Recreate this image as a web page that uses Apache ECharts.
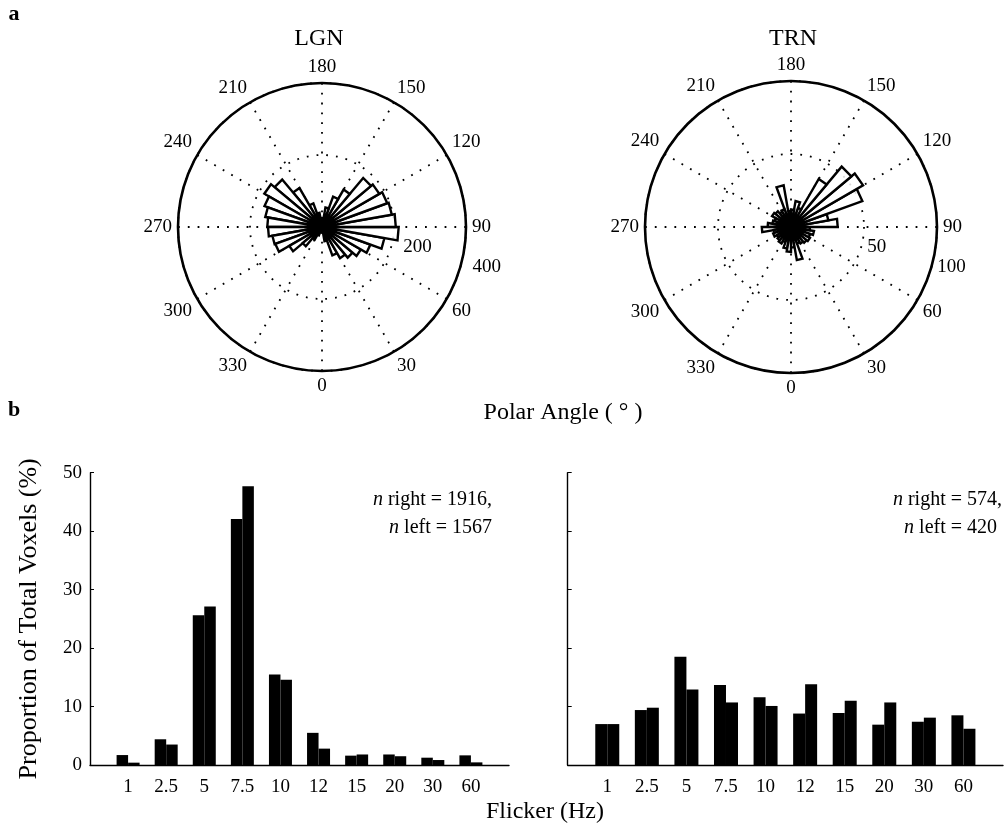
<!DOCTYPE html>
<html>
<head>
<meta charset="utf-8">
<script src="https://cdn.jsdelivr.net/npm/echarts@6/dist/echarts.min.js"></script>
<style>
html,body{margin:0;padding:0;background:#fff;}
#chart{width:1006px;height:828px;}
</style>
</head>
<body>
<div id="chart"></div>
<script>
// ---- data ----
const roseBinStart = [0,10,20,30,40,50,60,70,80,90,100,110,120,130,140,150,160,170,
                      180,190,200,210,220,230,240,250,260,270,280,290,300,310,320,330,340,350];
const lgnRose = [8,40,84,100,111,125,143,176,213,205,197,193,184,178,120,90,55,25,
                 10,40,70,125,172,185,170,160,152,150,140,138,105,70,40,25,15,8];
const trnRose = [14,23,12,13,14,15,14,16,13,32,26,52,57,54,38,14,18,12,
                 11,29,13,12,14,15,12,13,16,20,12,13,11,12,13,11,15,17];
const flickerHz = ['1','2.5','5','7.5','10','12','15','20','30','60'];
const lgnRight = [1.7,4.4,25.6,42.1,15.5,5.5,1.6,1.8,1.25,1.65];
const lgnLeft  = [0.4,3.5,27.1,47.7,14.6,2.8,1.8,1.5,0.85,0.45];
const trnRight = [7.0,9.4,18.5,13.7,11.6,8.8,8.9,6.9,7.4,8.5];
const trnLeft  = [7.0,9.8,12.9,10.7,10.1,13.8,11.0,10.7,8.1,6.2];
const lgnRadiusMax = 400, lgnRadiusStep = 200;
const trnRadiusMax = 100, trnRadiusStep = 50;
const binWidthDeg = 10;

const FONT = 'Liberation Serif';
const chart = echarts.init(document.getElementById('chart'));

function roseItem(params, api) {
  const r = api.value(0), a0 = api.value(1);
  const c = api.coord([0, a0]);
  const p0 = api.coord([r, a0]);
  const p1 = api.coord([r, a0 + binWidthDeg]);
  return {type:'polygon', shape:{points:[c,p0,p1]},
          style:{fill:'rgba(255,255,255,0.85)', stroke:'#000', lineWidth:2.4, lineJoin:'miter'}};
}
const dotted = {color:'#000', width:1.8, type:[1.8,8]};

function mainAngle(idx){
  return {polarIndex:idx, type:'value', min:0, max:360, interval:30, startAngle:270, clockwise:false,
    axisLine:{show:true, lineStyle:{color:'#000', width:2.6}},
    axisTick:{show:false},
    axisLabel:{color:'#000', fontSize:19, fontFamily:FONT, margin:6,
      formatter:v => v===360 ? '' : String(v)},
    splitLine:{show:true, lineStyle:dotted}};
}
function mainRadius(idx, max, step){
  return {polarIndex:idx, type:'value', min:0, max:max, interval:step,
    axisLine:{show:false}, axisTick:{show:false}, axisLabel:{show:false},
    splitLine:{show:true, lineStyle:dotted}};
}
function labelAngle(idx){
  return {polarIndex:idx, type:'value', min:0, max:360, startAngle:-16, clockwise:false, show:false};
}
function labelRadius(idx, max, step, pad){
  return {polarIndex:idx, type:'value', min:0, max:max, interval:step,
    axisLine:{show:false}, axisTick:{show:false}, splitLine:{show:false},
    axisLabel:{show:true, color:'#000', fontSize:19, fontFamily:FONT, margin:0,
      align:'left', verticalAlign:'middle', padding:[0,0,0,pad],
      formatter:v => v===0 ? '' : String(v)}};
}

const txt = (x, y, text, opts) => Object.assign({type:'text', x:x, y:y,
  style:Object.assign({text:text, fill:'#000', font:'24px "'+FONT+'"', textAlign:'center', textVerticalAlign:'middle'}, opts||{})});

const nStyle = (x, y, t, align) => ({type:'text', x:x, y:y, style:{
  text:t, fill:'#000', fontFamily:FONT, fontSize:20, textAlign:align||'right', textVerticalAlign:'middle',
  rich:{i:{fontStyle:'italic', fontFamily:FONT, fontSize:20, fill:'#000'}, t:{fontFamily:FONT, fontSize:20, fill:'#000'}}}});

const option = {
  backgroundColor:'#fff',
  animation:false,
  polar:[
    {center:[322,227], radius:144},
    {center:[791,227], radius:146},
    {center:[322,227], radius:144},
    {center:[791,227], radius:146}
  ],
  angleAxis:[mainAngle(0), mainAngle(1), labelAngle(2), labelAngle(3)],
  radiusAxis:[mainRadius(0,lgnRadiusMax,lgnRadiusStep), mainRadius(1,trnRadiusMax,trnRadiusStep),
              labelRadius(2,lgnRadiusMax,lgnRadiusStep,12), labelRadius(3,trnRadiusMax,trnRadiusStep,6)],
  grid:[
    {left:90, top:472.7, width:419, height:292.3},
    {left:567.7, top:472.7, width:449, height:292.3}
  ],
  xAxis:[0,1].map(g => ({gridIndex:g, type:'category', boundaryGap:false,
    data:[''].concat(flickerHz, ['']),
    axisLine:{lineStyle:{color:'#000', width:1.4}}, axisTick:{show:false},
    axisLabel:{color:'#000', fontSize:19, fontFamily:FONT, margin:13, interval:0},
    splitLine:{show:false}})),
  yAxis:[
    {gridIndex:0, type:'value', min:0, max:50, interval:10,
     name:'Proportion of Total Voxels (%)', nameLocation:'middle', nameGap:48,
     nameTextStyle:{color:'#000', fontSize:26, fontFamily:FONT},
     axisLine:{show:true, lineStyle:{color:'#000', width:1.4}},
     axisTick:{show:true, inside:true, length:4, lineStyle:{color:'#000'}},
     axisLabel:{color:'#000', fontSize:19, fontFamily:FONT, margin:8},
     splitLine:{show:false}},
    {gridIndex:1, type:'value', min:0, max:50, interval:10,
     axisLine:{show:true, lineStyle:{color:'#000', width:1.4}},
     axisTick:{show:true, inside:true, length:4, lineStyle:{color:'#000'}},
     axisLabel:{show:false}, splitLine:{show:false}}
  ],
  series:[
    {type:'custom', coordinateSystem:'polar', polarIndex:0, renderItem:roseItem,
     data:roseBinStart.map((a,i) => [lgnRose[i], a]), z:5},
    {type:'custom', coordinateSystem:'polar', polarIndex:1, renderItem:roseItem,
     data:roseBinStart.map((a,i) => [trnRose[i], a]), z:5},
    {type:'bar', name:'right', xAxisIndex:0, yAxisIndex:0, barWidth:11.5, barGap:'0%',
     itemStyle:{color:'#000'}, data:['-'].concat(lgnRight, ['-'])},
    {type:'bar', name:'left', xAxisIndex:0, yAxisIndex:0, barWidth:11.5, barGap:'0%',
     itemStyle:{color:'#000'}, data:['-'].concat(lgnLeft, ['-'])},
    {type:'bar', name:'right', xAxisIndex:1, yAxisIndex:1, barWidth:12, barGap:'0%',
     itemStyle:{color:'#000'}, data:['-'].concat(trnRight, ['-'])},
    {type:'bar', name:'left', xAxisIndex:1, yAxisIndex:1, barWidth:12, barGap:'0%',
     itemStyle:{color:'#000'}, data:['-'].concat(trnLeft, ['-'])}
  ],
  graphic:[
    txt(14, 14, 'a', {font:'bold 22px "'+FONT+'"'}),
    txt(14, 410, 'b', {font:'bold 22px "'+FONT+'"'}),
    txt(319, 39, 'LGN'),
    txt(793, 39, 'TRN'),
    txt(563, 413, 'Polar Angle ( ° )'),
    txt(545, 812, 'Flicker (Hz)'),
    nStyle(492, 500, '{i|n}{t| right = 1916,}'),
    nStyle(492, 528, '{i|n}{t| left = 1567}'),
    nStyle(1002, 500, '{i|n}{t| right = 574,}'),
    nStyle(997, 528, '{i|n}{t| left = 420}')
  ]
};
chart.setOption(option);
</script>
</body>
</html>
